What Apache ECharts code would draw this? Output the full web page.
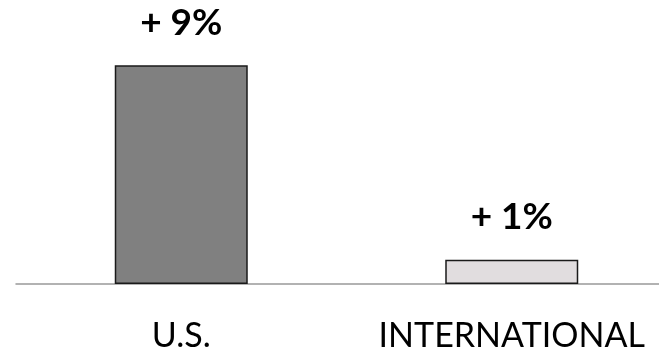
<!DOCTYPE html>
<html><head><meta charset="utf-8">
<script src="https://cdn.jsdelivr.net/npm/echarts@6/dist/echarts.min.js"></script>
<style>html,body{margin:0;padding:0;background:#fff}#c{width:659px;height:354px}</style>
</head><body><div id="c"></div>
<script>
var categories = ['U.S.', 'INTERNATIONAL'];
var values = [9, 1];
var valueLabels = ['+ 9%', '+ 1%'];
var barColors = ['#808080', '#e1dddf'];

var chart = echarts.init(document.getElementById('c'), null, {renderer: 'canvas'});
chart.setOption({
  animation: false,
  grid: {left: 16, width: 661, top: 41, bottom: 70, containLabel: false, outerBoundsMode: 'none'},
  xAxis: {
    type: 'category', data: categories,
    axisLine: {show: true, lineStyle: {color: '#999', width: 1.5}},
    axisTick: {show: false},
    axisLabel: {color: '#000', fontFamily: 'Lato', fontSize: 34, margin: 35, interval: 0, hideOverlap: false}
  },
  yAxis: {type: 'value', min: 0, max: 10, show: false, splitLine: {show: false}},
  series: [{
    type: 'bar', barWidth: 133,
    data: values.map(function (v, i) {
      return {value: v, itemStyle: {color: barColors[i], borderColor: '#1a1a1a', borderWidth: 1.5},
        label: {formatter: valueLabels[i]}};
    }),
    label: {show: true, position: 'top', distance: 24, color: '#000', fontFamily: 'Lato', fontWeight: 'bold', fontSize: 37}
  }]
});
</script></body></html>
